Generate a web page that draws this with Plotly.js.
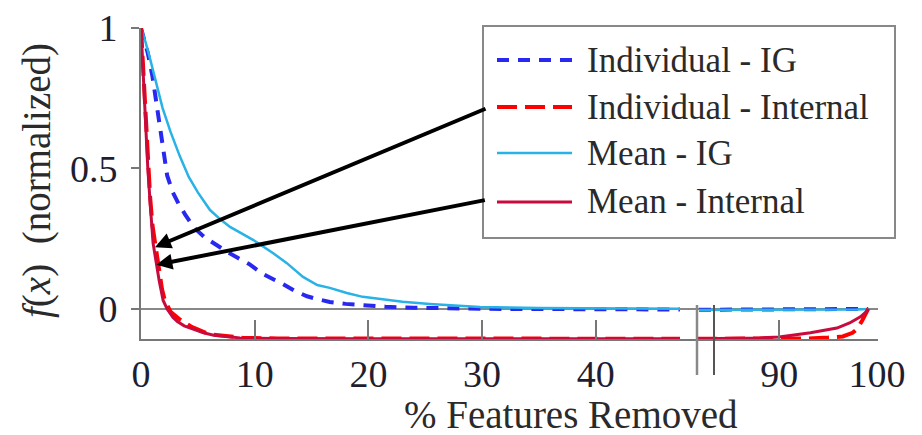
<!DOCTYPE html>
<html><head><meta charset="utf-8">
<script src="https://cdn.plot.ly/plotly-3.0.1.min.js"></script>
<style>
html,body{margin:0;padding:0;background:#fff}
#chart{width:922px;height:435px}
</style>
</head><body><div id="chart"></div>
<script>
// ---- data ----
const seriesNames = ['Individual - IG', 'Individual - Internal', 'Mean - IG', 'Mean - Internal'];

const xIndIG = [0, 0.3, 0.6, 1.0, 1.4, 1.9, 2.3, 2.8, 3.3, 3.9, 4.7, 5.6, 6.5, 7.5, 8.5, 9.5, 10.7, 11.6, 12.5, 13.5, 14.6, 15.6, 16.6, 18, 19.5, 21.5, 24, 27, 32, 40, 47.4,
                81.8, 86, 90, 95, 98, 99.1];
const yIndIG = [1, 0.96, 0.91, 0.83, 0.72, 0.575, 0.475, 0.415, 0.375, 0.335, 0.288, 0.255, 0.23, 0.205, 0.182, 0.16, 0.125, 0.108, 0.088, 0.065, 0.045, 0.034, 0.025, 0.018, 0.013, 0.008, 0.004, 0.002, 0.0, -0.001, -0.002,
                -0.003, -0.003, -0.003, -0.002, -0.001, 0.0];

const xIndInt = [0, 0.2, 0.4, 0.6, 0.8, 1.0, 1.2, 1.35, 1.6, 1.85, 2.1, 2.6, 3.5, 4.5, 6.0, 7.5, 9.0, 12, 20, 30, 40, 47.4,
                 81.6, 85, 90, 93, 95, 96.5, 97.5, 98, 98.5, 99.1];
const yIndInt = [1, 0.84, 0.68, 0.52, 0.4, 0.3, 0.24, 0.2, 0.12, 0.07, 0.03, -0.01, -0.04, -0.065, -0.09, -0.098, -0.103, -0.105, -0.106, -0.106, -0.106, -0.106,
                 -0.106, -0.106, -0.106, -0.105, -0.102, -0.098, -0.085, -0.07, -0.04, 0.0];

const xMeanIG = [0, 0.4, 0.8, 1.3, 1.9, 2.6, 3.4, 4.2, 5.0, 6.07, 7.0, 7.83, 9.0, 9.85, 11.6, 12.8, 14.25, 15.5, 16.6, 18.1, 19.5, 21, 23, 25.4, 27.5, 29.8, 35, 40, 47.4,
                 81.8, 86, 90, 95, 98, 99.1];
const yMeanIG = [1, 0.95, 0.89, 0.81, 0.715, 0.63, 0.545, 0.47, 0.415, 0.352, 0.318, 0.292, 0.265, 0.246, 0.199, 0.164, 0.114, 0.085, 0.075, 0.057, 0.043, 0.035, 0.026, 0.018, 0.012, 0.007, 0.003, 0.002, 0.001,
                 -0.004, -0.004, -0.004, -0.003, -0.002, 0.0];

const xMeanInt = [0, 0.2, 0.4, 0.6, 0.8, 1.06, 1.2, 1.4, 1.6, 1.95, 2.3, 2.8, 3.2, 3.8, 4.9, 5.5, 6.3, 7.5, 8.7, 10, 12, 20, 30, 40, 47.4,
                  81.6, 85, 88, 90, 93.2, 95.9, 97.2, 98.3, 99.0, 99.1];
const yMeanInt = [1, 0.83, 0.67, 0.5, 0.38, 0.235, 0.2, 0.15, 0.1, 0.03, 0.0, -0.03, -0.045, -0.06, -0.075, -0.085, -0.093, -0.099, -0.103, -0.104, -0.105, -0.106, -0.106, -0.106, -0.106,
                  -0.106, -0.105, -0.103, -0.1, -0.085, -0.068, -0.05, -0.028, -0.007, 0.0];

const yTickVals = [0, 0.5, 1];
const yTickText = ['0', '0.5', '1'];
const xLeftTickVals = [0, 10, 20, 30, 40];
const xLeftTickText = ['0', '10', '20', '30', '40'];
const xRightTickVals = [90, 100];
const xRightTickText = ['90', '100'];
const xTitle = '% Features Removed';
const yTitle = '<i>f</i>(<i>x</i>)\u00A0\u00A0(normalized)';
const arrowTargetX = [1.23, 1.35];
const arrowTargetY = [0.22, 0.157];

// ---- styles ----
const colors = ['rgb(40,40,240)', 'rgb(255,0,0)', 'rgb(40,178,230)', 'rgb(200,10,60)'];
const dashes = ['12px,9px', '20px,8px', 'solid', 'solid'];
const widths = [4, 4, 2.5, 3];
const FONT = 'Liberation Serif';
const AX = '#777';

const seriesX = [xIndIG, xIndInt, xMeanIG, xMeanInt];
const seriesY = [yIndIG, yIndInt, yMeanIG, yMeanInt];
const BREAK = 60;

const traces = [];
[0, 2, 1, 3].forEach(i => {
  const xs = seriesX[i], ys = seriesY[i];
  const lx = [], ly = [], rx = [], ry = [];
  xs.forEach((v, k) => { if (v < BREAK) { lx.push(v); ly.push(ys[k]); } else { rx.push(v); ry.push(ys[k]); } });
  const line = {color: colors[i], width: widths[i], dash: dashes[i]};
  traces.push({x: lx, y: ly, xaxis: 'x', yaxis: 'y', mode: 'lines', name: seriesNames[i], line: line, showlegend: false, hoverinfo: 'skip'});
  traces.push({x: rx, y: ry, xaxis: 'x2', yaxis: 'y', mode: 'lines', name: seriesNames[i], line: line, showlegend: false, hoverinfo: 'skip'});
});

const W = 922, H = 435;
const px = v => v / W;
const py = v => (H - v) / H;

const shapes = [];
// legend box
shapes.push({type: 'rect', xref: 'paper', yref: 'paper', x0: px(483), x1: px(895), y0: py(238), y1: py(26),
  line: {color: '#888', width: 2}, fillcolor: '#fff', layer: 'above'});
const rows = [60, 107, 153, 202];
const annotations = [];
seriesNames.forEach((n, i) => {
  shapes.push({type: 'line', xref: 'paper', yref: 'paper', x0: px(497), x1: px(572), y0: py(rows[i]), y1: py(rows[i]),
    line: {color: colors[i], width: widths[i], dash: dashes[i]}, layer: 'above'});
  annotations.push({xref: 'paper', yref: 'paper', x: px(585), y: py(rows[i]), xanchor: 'left', yanchor: 'middle',
    text: n, showarrow: false, font: {family: FONT, size: 35, color: '#2a2a2a'}});
});
// axis break marks
shapes.push({type: 'line', xref: 'paper', yref: 'paper', x0: px(697), x1: px(697), y0: py(375), y1: py(305), line: {color: '#888', width: 2.5}});
shapes.push({type: 'line', xref: 'paper', yref: 'paper', x0: px(714), x1: px(714), y0: py(375), y1: py(305), line: {color: '#555', width: 2}});

// arrows
const tails = [[487, 108], [487, 200]];
const heads = [[155, 247], [157, 265]];
arrowTargetX.forEach((x, i) => {
  annotations.push({x: x, y: arrowTargetY[i], xref: 'x', yref: 'y', text: '', showarrow: true,
    ax: tails[i][0] - heads[i][0], ay: tails[i][1] - heads[i][1],
    arrowhead: 2, arrowsize: 0.8, arrowwidth: 4, arrowcolor: '#000', standoff: 0});
});
// axis titles
annotations.push({xref: 'paper', yref: 'paper', x: px(571), y: py(414), xanchor: 'center', yanchor: 'middle',
  text: xTitle, showarrow: false, font: {family: FONT, size: 39, color: '#2a2a2a'}});
annotations.push({xref: 'paper', yref: 'paper', x: px(37), y: py(181), xanchor: 'center', yanchor: 'middle', textangle: -90,
  text: yTitle, showarrow: false, font: {family: FONT, size: 39, color: '#2a2a2a'}});

const tickfont = {family: FONT, size: 38, color: '#1e1e30'};
const xCommon = {showgrid: false, zeroline: false, showline: true, linecolor: AX, linewidth: 2,
  ticks: 'inside', ticklen: 19, tickwidth: 1.5, tickcolor: AX, tickfont: tickfont, anchor: 'y', fixedrange: true};

const layout = {
  width: W, height: H, margin: {l: 0, r: 0, t: 0, b: 0},
  paper_bgcolor: '#fff', plot_bgcolor: 'rgba(0,0,0,0)', showlegend: false,
  xaxis: Object.assign({}, xCommon, {domain: [px(141), px(697)], range: [0, 48.9],
    tickmode: 'array', tickvals: xLeftTickVals, ticktext: xLeftTickText}),
  xaxis2: Object.assign({}, xCommon, {domain: [px(697), px(878)], range: [81.6, 100.1],
    tickmode: 'array', tickvals: xRightTickVals, ticktext: xRightTickText}),
  yaxis: {domain: [py(339), py(28)], range: [-0.107, 1], anchor: 'x', showgrid: false,
    showline: true, linecolor: AX, linewidth: 2, zeroline: true, zerolinecolor: '#888', zerolinewidth: 2,
    ticks: 'outside', ticklen: 8, tickwidth: 1.5, tickcolor: AX, tickfont: tickfont, ticklabelstandoff: 6,
    tickmode: 'array', tickvals: yTickVals, ticktext: yTickText, fixedrange: true},
  shapes: shapes, annotations: annotations
};

Plotly.newPlot('chart', traces, layout, {displayModeBar: false});
</script>
</body></html>
